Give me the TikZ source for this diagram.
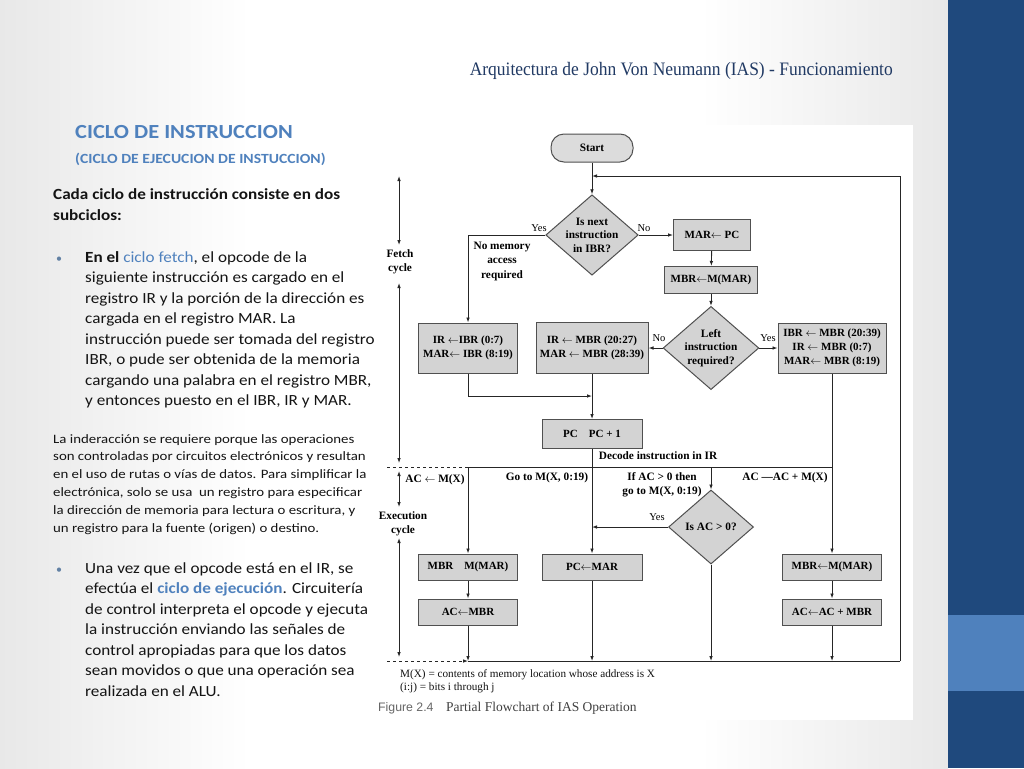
\documentclass[tikz,border=0pt]{standalone}
\usepackage{fontspec}
\usepackage{graphicx}
\setmainfont{Carlito}
\newfontfamily\fcf{Liberation Serif}
\newfontfamily\capsans{Liberation Sans}
\usetikzlibrary{arrows.meta,shapes.geometric,calc}
\definecolor{darkbar}{RGB}{31,73,125}
\definecolor{lightbar}{RGB}{79,129,189}
\definecolor{acc}{RGB}{79,129,189}
\definecolor{titlec}{RGB}{33,58,100}
\definecolor{boxfill}{RGB}{211,211,211}
\definecolor{boxline}{RGB}{80,80,80}
\newcommand{\myla}{\ensuremath{\leftarrow}}
\begin{document}
\begin{tikzpicture}[x=1pt,y=-1pt,
  fbox/.style={draw=boxline, fill=boxfill, line width=1pt, inner sep=0pt, align=center,
    font=\fcf\bfseries\fontsize{11}{14}\selectfont},
  fdia/.style={diamond, draw=boxline, fill=boxfill, line width=1pt, inner sep=0pt, aspect=1.15,
    minimum width=85pt, minimum height=74pt, align=center,
    font=\fcf\bfseries\fontsize{11.3}{13.5}\selectfont},
  term/.style={draw=boxline, fill=boxfill!80!white, line width=1pt, rounded corners=13pt,
    minimum width=82pt, minimum height=28pt, inner sep=0pt, font=\fcf\bfseries\fontsize{11.3}{12}\selectfont},
  lab/.style={font=\fcf\bfseries\fontsize{11.3}{14.5}\selectfont, inner sep=0pt, align=center},
  yn/.style={font=\fcf\fontsize{10.5}{12}\selectfont, inner sep=0pt},
  ln/.style={draw=black!85, line width=0.9pt},
  arr/.style={ln, -{Latex[length=5pt,width=3.6pt]}},
  darr/.style={ln, {Latex[length=5pt,width=3.6pt]}-{Latex[length=5pt,width=3.6pt]}},
  txt/.style={anchor=base west, inner sep=0pt, text=black!92}
]
\useasboundingbox (0,0) rectangle (1024,768);
% background
\fill[white] (0,0) rectangle (948,768);
\shade[left color=black!9, right color=white] (0,0) rectangle (250,768);
\shade[left color=white, right color=black!9] (700,0) rectangle (948,768);
\fill[white] (362,125) rectangle (913,720);
\fill[darkbar] (948,0) rectangle (1024,768);
\fill[lightbar] (948,615) rectangle (1024,691);

% title
\node[anchor=base east, inner sep=0pt, text=titlec] (title) at (893,75)
  {\resizebox{423pt}{\height}{\fcf\fontsize{19}{22}\selectfont Arquitectura de John Von Neumann (IAS) - Funcionamiento}};

% left text
\node[anchor=base west, inner sep=0pt, text=acc] (h1) at (75,138)
  {\scalebox{1.12}[1]{\bfseries\fontsize{20}{22}\selectfont CICLO DE INSTRUCCION}};
\node[anchor=base west, inner sep=0pt, text=acc] (h2) at (75,163)
  {\scalebox{1.12}[1]{\bfseries\fontsize{14}{16}\selectfont (CICLO DE EJECUCION DE INSTUCCION)}};

\node[txt] (p1) at (53,199) {\scalebox{1.105}[1]{\parbox[t]{300pt}{\bfseries\fontsize{15.5}{21}\selectfont Cada ciclo de instrucción consiste en dos\\subciclos:}}};

\node[txt, text=acc!60!gray] (bu1) at (56,262) {\fontsize{12}{14}\selectfont •};
\node[txt] (p2) at (85,262) {\scalebox{1.105}[1]{\parbox[t]{280pt}{\fontsize{15.5}{20.5}\selectfont
\textbf{En el} {\color{acc}ciclo fetch}, el opcode de la\\
siguiente instrucción es cargado en el\\
registro IR y la porción de la dirección es\\
cargada en el registro MAR. La\\
instrucción puede ser tomada del registro\\
IBR, o pude ser obtenida de la memoria\\
cargando una palabra en el registro MBR,\\
y entonces puesto en el IBR, IR y MAR.}}};

\node[txt] (p3) at (53,443) {\scalebox{1.16}[1]{\parbox[t]{300pt}{\fontsize{12.8}{17.8}\selectfont
La inderacción se requiere porque las operaciones\\
son controladas por circuitos electrónicos y resultan\\
en el uso de rutas o vías de datos. Para simplificar la\\
electrónica, solo se usa\ \ un registro para especificar\\
la dirección de memoria para lectura o escritura, y\\
un registro para la fuente (origen) o destino.}}};

\node[txt, text=acc!60!gray] (bu2) at (56,573) {\fontsize{12}{14}\selectfont •};
\node[txt] (p4) at (85,573) {\scalebox{1.105}[1]{\parbox[t]{280pt}{\fontsize{15.5}{20.5}\selectfont
Una vez que el opcode está en el IR, se\\
efectúa el {\color{acc}\bfseries ciclo de ejecución}. Circuitería\\
de control interpreta el opcode y ejecuta\\
la instrucción enviando las señales de\\
control apropiadas para que los datos\\
sean movidos o que una operación sea\\
realizada en el ALU.}}};

% flowchart nodes
\node[term] (start) at (592,148) {Start};
\node[fdia] (d1) at (592,235) {Is next\\instruction\\in IBR?};
\node[fbox, minimum width=77pt, minimum height=31pt] (mar) at (712,235) {MAR\myla\ PC};
\node[fbox, minimum width=93pt, minimum height=27pt] (mbr) at (711,280) {MBR\myla M(MAR)};
\node[fdia] (d2) at (711,348) {Left\\instruction\\required?};
\node[fbox, minimum width=99pt, minimum height=50pt] (b1) at (468,348) {IR \myla IBR (0:7)\\MAR\myla\ IBR (8:19)};
\node[fbox, minimum width=112pt, minimum height=51pt] (b2) at (592,348) {IR \myla\ MBR (20:27)\\MAR \myla\ MBR (28:39)};
\node[fbox, minimum width=108pt, minimum height=50pt] (b3) at (832,348) {IBR \myla\ MBR (20:39)\\IR \myla\ MBR (0:7)\\MAR\myla\ MBR (8:19)};
\node[fbox, minimum width=100pt, minimum height=29pt] (pc) at (592,434) {PC\quad PC + 1};
\node[fdia] (d3) at (711,527) {Is AC > 0?};
\node[fbox, minimum width=99pt, minimum height=26pt] (e1) at (468,567) {MBR\quad M(MAR)};
\node[fbox, minimum width=100pt, minimum height=26pt] (e2) at (592,567) {PC\myla MAR};
\node[fbox, minimum width=99pt, minimum height=26pt] (e3) at (832,567) {MBR\myla M(MAR)};
\node[fbox, minimum width=99pt, minimum height=26pt] (e4) at (468,612) {AC\myla MBR};
\node[fbox, minimum width=99pt, minimum height=26pt] (e5) at (832,612) {AC\myla AC + MBR};

% coordinates
\coordinate (tr) at (900,176);
\coordinate (br) at (900,661);
\coordinate (j0) at (592,176);
\coordinate (m1) at (592,396);
\coordinate (hl) at (468,467);
\coordinate (hr) at (832,467);
\coordinate (hd) at (711,467);
\coordinate (dl) at (387,467);
\coordinate (m2) at (592,527);
\coordinate (bl) at (468,661);
\coordinate (dbl) at (387,661);
\coordinate (f1) at (399,176);
\coordinate (f2) at (399,245);
\coordinate (f3) at (399,283);
\coordinate (f4) at (399,463);
\coordinate (x1) at (399,471);
\coordinate (x2) at (399,507);
\coordinate (x3) at (399,538);
\coordinate (x4) at (399,657);

% connectors
\draw[arr] (start) -- (d1);
\draw[arr] (br) -- (tr) -- (j0);
\draw[arr] (d1.west) -| (b1.north);
\draw[arr] (d1.east) -- (mar.west);
\draw[arr] (mar) -- (mbr);
\draw[arr] (mbr) -- (d2);
\draw[arr] (d2.west) -- (b2.east);
\draw[arr] (d2.east) -- (b3.west);
\draw[arr] (b1.south) |- (m1);
\draw[arr] (b2) -- (pc);
\draw[arr] (pc) -- (e2);
\draw[arr] (b3) -- (e3);
\draw[ln] (hl) -- (hr);
\draw[ln, dashed] (dl) -- (hl);
\draw[arr] (hl) -- (e1);
\draw[arr] (hd) -- (d3);
\draw[arr] (d3.west) -- (m2);
\draw[ln] (bl) -- (br);
\draw[arr, dashed] (dbl) -- (bl);
\draw[arr] (e1) -- (e4);
\draw[arr] (e4) -- (e4 |- bl);
\draw[arr] (e2) -- (e2 |- bl);
\draw[arr] (d3) -- (d3 |- bl);
\draw[arr] (e3) -- (e5);
\draw[arr] (e5) -- (e5 |- bl);
\draw[darr] (f1) -- (f2);
\draw[darr] (f3) -- (f4);
\draw[darr] (x1) -- (x2);
\draw[darr] (x3) -- (x4);

% labels
\node[yn] (y1) at (539,228) {Yes};
\node[yn] (n1) at (644,228) {No};
\node[yn] (n2) at (659,338) {No};
\node[yn] (y2) at (768,338) {Yes};
\node[yn] (y3) at (657,517) {Yes};
\node[lab] (fc) at (400,262) {Fetch\\cycle};
\node[lab] (ec) at (403,524) {Execution\\cycle};
\node[lab] (nma) at (502,261) {No memory\\access\\required};
\node[lab] (dec) at (658,456) {Decode instruction in IR};
\node[lab] (l1) at (435,480) {AC \myla\ M(X)};
\node[lab] (l2) at (547,478) {Go to M(X, 0:19)};
\node[lab] (l3) at (662,485) {If AC > 0 then\\go to M(X, 0:19)};
\node[lab] (l4) at (785,478) {AC —AC + M(X)};

% footnote and caption
\node[txt, font=\fcf\fontsize{11.2}{13.5}\selectfont] (fn) at (400,677) {\parbox[t]{300pt}{M(X) = contents of memory location whose address is X\\(i:j) = bits i through j}};
\node[txt, text=black!60, font=\capsans\fontsize{12.3}{13}\selectfont] (fig) at (378,711) {Figure 2.4};
\node[txt, text=black!75, font=\fcf\fontsize{13.5}{14}\selectfont] (cap) at (446,711) {Partial Flowchart of IAS Operation};
\end{tikzpicture}
\end{document}
